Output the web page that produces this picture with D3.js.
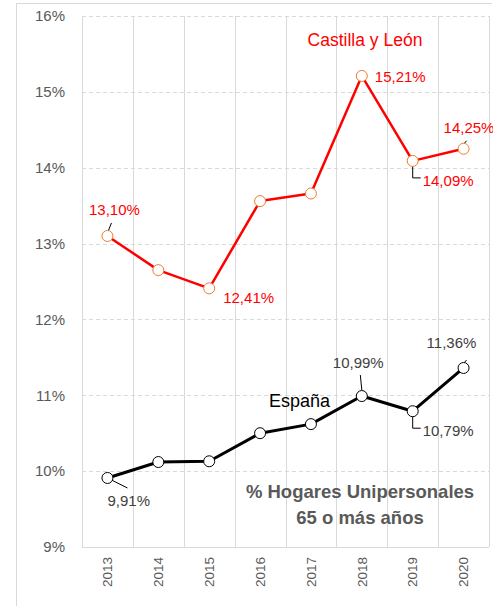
<!DOCTYPE html>
<html>
<head>
<meta charset="utf-8">
<script src="https://cdn.jsdelivr.net/npm/d3@7"></script>
<style>
  body { margin: 0; background: #fff; }
  text { font-family: "Liberation Sans", Arial, sans-serif; }
</style>
</head>
<body>
<svg id="chart"></svg>
<script>
const years = ["2013", "2014", "2015", "2016", "2017", "2018", "2019", "2020"];
const castilla = [13.10, 12.65, 12.41, 13.56, 13.66, 15.21, 14.09, 14.25];
const espana = [9.91, 10.12, 10.13, 10.50, 10.62, 10.99, 10.79, 11.36];
const yTicks = [9, 10, 11, 12, 13, 14, 15, 16];

// which points carry a value label, and where it sits relative to the marker
const castillaLabels = [
  { i: 0, dx: 7, dy: -26, anchor: "middle", leader: "up" },
  { i: 2, dx: 14, dy: 9, anchor: "start", leader: "none" },
  { i: 5, dx: 13, dy: 1, anchor: "start", leader: "none" },
  { i: 6, dx: 10, dy: 20, anchor: "start", leader: "elbow" },
  { i: 7, dx: -20, dy: -21, anchor: "start", leader: "diag" }
];
const espanaLabels = [
  { i: 0, dx: 0, dy: 23, anchor: "start", leader: "downright" },
  { i: 5, dx: -29, dy: -33, anchor: "start", leader: "upLong" },
  { i: 6, dx: 10, dy: 20, anchor: "start", leader: "elbow" },
  { i: 7, dx: -37, dy: -25, anchor: "start", leader: "diag" }
];

const W = 493, H = 606;
const m = { left: 82, right: 4, top: 16, bottom: 59 };

const svg = d3.select("#chart").attr("width", W).attr("height", H);

// chart frame
svg.append("path")
  .attr("d", `M16.5,${H} V3.5 H492`)
  .attr("fill", "none")
  .attr("stroke", "#d9d9d9")
  .attr("stroke-width", 1);

const x = d3.scaleBand().domain(years).range([m.left, W - m.right]).padding(0);
const y = d3.scaleLinear().domain([9, 16]).range([H - m.bottom, m.top]);
const fmt = (v) => v.toFixed(2).replace(".", ",") + "%";

// horizontal dashed grid
svg.append("g")
  .selectAll("line")
  .data(yTicks.slice(1))
  .enter()
  .append("line")
  .attr("x1", m.left)
  .attr("x2", W - m.right)
  .attr("y1", (d) => Math.round(y(d)) + 0.5)
  .attr("y2", (d) => Math.round(y(d)) + 0.5)
  .attr("stroke", "#d9d9d9")
  .attr("stroke-dasharray", "4,3");

// vertical solid grid at category boundaries
const bounds = years.map((d) => x(d)).concat([x.range()[1]]);
svg.append("g")
  .selectAll("line")
  .data(bounds)
  .enter()
  .append("line")
  .attr("x1", (d) => Math.round(d) + 0.5)
  .attr("x2", (d) => Math.round(d) + 0.5)
  .attr("y1", m.top)
  .attr("y2", H - m.bottom)
  .attr("stroke", "#d9d9d9");

// x axis line
svg.append("line")
  .attr("x1", m.left)
  .attr("x2", W - m.right)
  .attr("y1", Math.round(y(9)) + 0.5)
  .attr("y2", Math.round(y(9)) + 0.5)
  .attr("stroke", "#d9d9d9");

// y axis labels
const yAxis = svg.append("g")
  .attr("transform", `translate(${m.left},0)`)
  .call(d3.axisLeft(y).tickValues(yTicks).tickSize(0).tickPadding(17).tickFormat((d) => d + "%"));
yAxis.select(".domain").remove();
yAxis.selectAll("text").attr("fill", "#595959").style("font-size", "15px");

// x axis labels (rotated)
const xAxis = svg.append("g")
  .attr("transform", `translate(0,${H - m.bottom})`)
  .call(d3.axisBottom(x).tickSize(0).tickPadding(0));
xAxis.select(".domain").remove();
xAxis.selectAll("text")
  .attr("fill", "#595959")
  .style("font-size", "13.5px")
  .attr("transform", "rotate(-90)")
  .attr("text-anchor", "end")
  .attr("x", -10)
  .attr("y", 0)
  .attr("dy", "0.35em");

const line = d3.line()
  .x((d, i) => x(years[i]) + x.bandwidth() / 2)
  .y((d) => y(d));

function drawSeries(values, color, marker, width, labels, labelColor) {
  svg.append("path")
    .datum(values)
    .attr("fill", "none")
    .attr("stroke", color)
    .attr("stroke-width", width)
    .attr("stroke-linejoin", "round")
    .attr("d", line);

  // leader lines from marker to label
  labels.forEach((l) => {
    const cx = x(years[l.i]) + x.bandwidth() / 2;
    const cy = y(values[l.i]);
    let d = "";
    if (l.leader === "up") d = `M${cx},${cy - 3} L${cx + 4},${cy - 13}`;
    if (l.leader === "upLong") d = `M${cx},${cy - 6} L${cx - 1.5},${cy - 21}`;
    if (l.leader === "diag") d = `M${cx - 3},${cy - 1} L${cx + 3},${cy - 8}`;
    if (l.leader === "elbow") d = `M${cx},${cy + 2} V${cy + 17} H${cx + 8}`;
    if (l.leader === "downright") d = `M${cx},${cy} L${cx + 20},${cy + 10}`;
    if (d) {
      svg.append("path")
        .attr("d", d)
        .attr("fill", "none")
        .attr("stroke", "#000")
        .attr("stroke-width", 1);
    }
  });

  svg.append("g")
    .selectAll("circle")
    .data(values)
    .enter()
    .append("circle")
    .attr("cx", (d, i) => x(years[i]) + x.bandwidth() / 2)
    .attr("cy", (d) => y(d))
    .attr("r", 5.5)
    .attr("fill", "#fff")
    .attr("stroke", marker)
    .attr("stroke-width", 1);

  svg.append("g")
    .selectAll("text")
    .data(labels)
    .enter()
    .append("text")
    .attr("x", (l) => x(years[l.i]) + x.bandwidth() / 2 + l.dx)
    .attr("y", (l) => y(values[l.i]) + l.dy)
    .attr("dy", "0.35em")
    .attr("text-anchor", (l) => l.anchor)
    .attr("fill", labelColor)
    .style("font-size", "15px")
    .text((l) => fmt(values[l.i]));
}

drawSeries(castilla, "#ff0000", "#ed7d31", 2.5, castillaLabels, "#ff0000");
drawSeries(espana, "#000000", "#000000", 3, espanaLabels, "#404040");

// series names
svg.append("text")
  .attr("x", 365)
  .attr("y", 40)
  .attr("dy", "0.35em")
  .attr("text-anchor", "middle")
  .attr("fill", "#ff0000")
  .style("font-size", "17.5px")
  .text("Castilla y León");

svg.append("text")
  .attr("x", 269)
  .attr("y", 401)
  .attr("dy", "0.35em")
  .attr("fill", "#000")
  .style("font-size", "18px")
  .text("España");

// chart note
const note = svg.append("text")
  .attr("text-anchor", "middle")
  .attr("fill", "#595959")
  .style("font-size", "18.5px")
  .style("font-weight", "bold");
note.append("tspan").attr("x", 360).attr("y", 498).text("% Hogares Unipersonales");
note.append("tspan").attr("x", 360).attr("y", 524).text("65 o más años");
</script>
</body>
</html>
